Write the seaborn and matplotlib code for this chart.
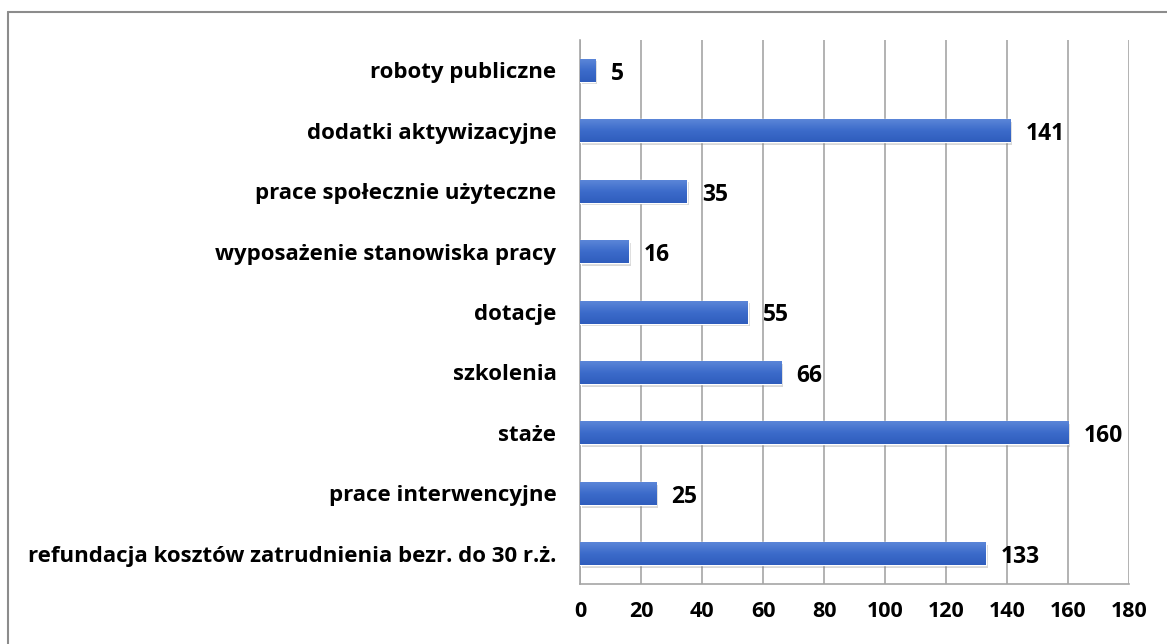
import numpy as np
import pandas as pd
import matplotlib
matplotlib.use('Agg')
import matplotlib.pyplot as plt
import matplotlib.patheffects as pe
from matplotlib.lines import Line2D
import seaborn as sns

# Data (top to bottom)
categories = [
    'roboty publiczne',
    'dodatki aktywizacyjne',
    'prace społecznie użyteczne',
    'wyposażenie stanowiska pracy',
    'dotacje',
    'szkolenia',
    'staże',
    'prace interwencyjne',
    'refundacja kosztów zatrudnienia bezr. do 30 r.ż.',
]
values = [5, 141, 35, 16, 55, 66, 160, 25, 133]
x_ticks = [0, 20, 40, 60, 80, 100, 120, 140, 160, 180]

df = pd.DataFrame({'kategoria': categories, 'liczba': values})

sns.set_style('white')
plt.rcParams['font.family'] = ['Open Sans', 'DejaVu Sans']
plt.rcParams['font.weight'] = 'bold'

fig = plt.figure(figsize=(11.67, 6.44), dpi=100)
ax = fig.add_axes([0.497, 0.093, 0.4705, 0.845])

sns.barplot(data=df, x='liczba', y='kategoria', orient='h', width=0.38,
            color='#3D6CCB', ax=ax, zorder=3)

# gradient fill + soft shadow like the Excel 3D bars
grad = np.linspace(0, 1, 64).reshape(-1, 1)
cmap = matplotlib.colors.LinearSegmentedColormap.from_list(
    'bar', ['#5B86D8', '#3C6BCA', '#2F5DBD'])
for p in ax.patches:
    p.set_path_effects([pe.SimplePatchShadow(offset=(1.5, -2), shadow_rgbFace='#808080', alpha=0.3),
                        pe.Normal()])
    x0, y0 = p.get_x(), p.get_y()
    w, h = p.get_width(), p.get_height()
    im = ax.imshow(grad, cmap=cmap, aspect='auto', extent=[x0, x0 + w, y0 + h, y0],
                   zorder=4, interpolation='bicubic')
    im.set_clip_path(p)

ax.set_xlim(0, 180)
ax.set_ylim(len(categories) - 0.5, -0.5)
ax.set_xticks(x_ticks)
ax.set_xticklabels([str(t) for t in x_ticks], fontsize=15.5, fontweight='bold')
ax.set_yticks(range(len(categories)))
ax.set_yticklabels(categories, fontsize=16, fontweight='bold')
ax.set_yticks(np.arange(-0.5, len(categories), 1), minor=True)
ax.set_xlabel('')
ax.set_ylabel('')

ax.grid(axis='x', color='#A6A6A6', linewidth=1.2, zorder=0)
ax.grid(axis='y', visible=False)
ax.set_axisbelow(True)

for side in ['top', 'right']:
    ax.spines[side].set_visible(False)
for side in ['left', 'bottom']:
    ax.spines[side].set_color('#A6A6A6')
    ax.spines[side].set_linewidth(1.2)

ax.tick_params(axis='y', which='major', length=0, pad=17, colors='black')
ax.tick_params(axis='y', which='minor', length=7, width=1.2, color='#A6A6A6', direction='out')
ax.tick_params(axis='x', which='major', length=6, width=1.2, color='#A6A6A6',
               direction='out', pad=6, labelcolor='black')

for i, v in enumerate(values):
    ax.annotate(str(v), xy=(v, i), xytext=(11, -2.5), textcoords='offset points',
                va='center', ha='left', fontsize=16.5, fontweight='bold', color='black')

# outer frame of the embedded chart
fig.add_artist(Line2D([8 / 1167, 8 / 1167], [0, 1 - 12 / 644], transform=fig.transFigure,
                      color='#8C8C8C', linewidth=1.5))
fig.add_artist(Line2D([8 / 1167, 1], [1 - 12 / 644, 1 - 12 / 644], transform=fig.transFigure,
                      color='#8C8C8C', linewidth=1.5))

fig.savefig('out.png', dpi=100)
